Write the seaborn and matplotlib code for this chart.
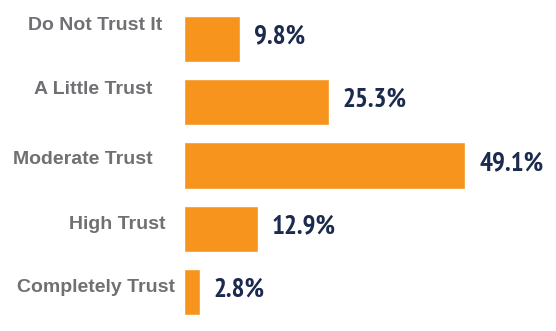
import matplotlib
matplotlib.use("Agg")
import matplotlib.pyplot as plt
from matplotlib import font_manager
import seaborn as sns
import pandas as pd

categories = ["Do Not Trust It", "A Little Trust", "Moderate Trust", "High Trust", "Completely Trust"]
shares = [9.8, 25.3, 49.1, 12.9, 2.8]
value_labels = ["9.8%", "25.3%", "49.1%", "12.9%", "2.8%"]

# label placement: horizontal centre (figure pixels) and vertical shift (points)
label_centre_px = [95, 93, 83, 117, 96]
label_shift_pt = [10, 9, 4, 3, 3]

sns.set_theme(style="white")
plt.rcParams["font.family"] = ["Liberation Sans", "DejaVu Sans"]


def condensed_bold():
    """Find a narrow bold face for the percentage labels."""
    fonts = font_manager.fontManager.ttflist
    for f in fonts:
        if "narrow" in f.name.lower() and f.weight in ("bold", 700):
            return font_manager.FontProperties(fname=f.fname), True
    for f in fonts:
        if "condensed" in (f.name.lower() + " " + str(f.stretch)) and f.weight in ("bold", 700):
            return font_manager.FontProperties(fname=f.fname), True
    return font_manager.FontProperties(family="Liberation Sans", weight="bold"), False


val_font, narrow = condensed_bold()
val_font.set_size(19.5 if narrow else 16)

df = pd.DataFrame({"category": categories, "share": shares})

W, H = 556, 331
fig = plt.figure(figsize=(W / 100, H / 100), dpi=100)
left = 184 / W
ax = fig.add_axes([left, 0.0224, 1 - left, 0.9556])

sns.barplot(data=df, y="category", x="share", order=categories,
            color="#F7941D", saturation=1, width=0.73, orient="h", ax=ax)

ax.set_xlim(0, 372 / 5.73)
ax.set_ylim(4.5, -0.5)
ax.set_xlabel("")
ax.set_ylabel("")
ax.set_xticks([])
ax.set_yticks([])
sns.despine(ax=ax, left=True, bottom=True)

for i, (v, txt) in enumerate(zip(shares, value_labels)):
    ax.annotate(txt, xy=(v, i), xytext=(10, 1.5), textcoords="offset points",
                ha="left", va="center", fontproperties=val_font, color="#1B2A4E")

for i, (cat, cx, dy) in enumerate(zip(categories, label_centre_px, label_shift_pt)):
    ax.annotate(cat, xy=(cx / W, i), xycoords=("figure fraction", "data"),
                xytext=(0, dy), textcoords="offset points",
                ha="center", va="center", fontsize=14, fontweight="bold",
                color="#6F7073", annotation_clip=False)

fig.savefig("out.png", dpi=100, facecolor="white")
